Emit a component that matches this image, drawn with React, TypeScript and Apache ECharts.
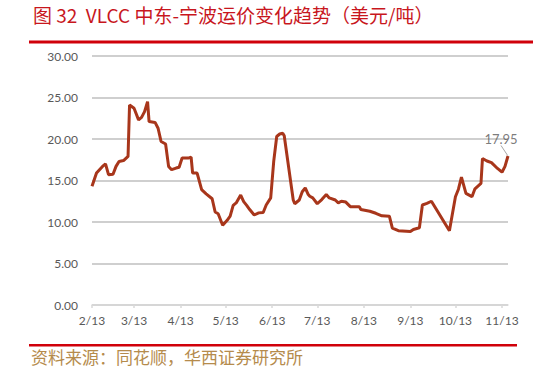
import React, { useEffect, useRef } from "react";
import * as echarts from "echarts";

const TITLE = "图 32  VLCC 中东-宁波运价变化趋势（美元/吨）";
const SOURCE = "资料来源：同花顺，华西证券研究所";

const YEAR = 2023;
const START = "02-13";
const END = "11-17";

const pointDates = [
  "02-13", "02-16", "02-18", "02-20", "02-22", "02-24", "02-27", "03-01", "03-03", "03-06",
  "03-09", "03-10", "03-13", "03-16", "03-18", "03-20", "03-22", "03-23", "03-27", "03-29",
  "03-31", "04-03", "04-05", "04-07", "04-10", "04-12", "04-14", "04-18", "04-20", "04-21",
  "04-24", "04-27", "04-30", "05-04", "05-06", "05-08", "05-11", "05-14", "05-16", "05-18",
  "05-20", "05-23", "05-25", "05-27", "05-29", "06-01", "06-04", "06-07", "06-09", "06-12",
  "06-14", "06-16", "06-18", "06-20", "06-21", "06-27", "06-28", "07-01", "07-03", "07-05",
  "07-07", "07-08", "07-10", "07-13", "07-16", "07-19", "07-21", "07-25", "07-27", "07-29",
  "08-01", "08-04", "08-10", "08-11", "08-17", "08-21", "08-25", "08-30", "09-01", "09-05",
  "09-13", "09-15", "09-19", "09-21", "09-24", "09-27", "10-09", "10-13", "10-15", "10-17",
  "10-20", "10-24", "10-26", "10-30", "10-31", "11-03", "11-06", "11-10", "11-13", "11-15",
  "11-17",
];

const pointValues = [
  14.3, 15.9, 16.3, 16.7, 17.0, 15.7, 15.75, 16.7, 17.3, 17.4,
  17.9, 24.1, 23.7, 22.3, 22.6, 23.3, 24.5, 22.1, 22.0, 21.3,
  19.7, 19.4, 16.7, 16.3, 16.5, 16.6, 17.7, 17.7, 17.8, 15.9,
  15.9, 13.9, 13.4, 12.8, 11.2, 11.0, 9.6, 10.2, 10.7, 12.0,
  12.3, 13.25, 12.45, 12.0, 11.5, 10.85, 11.1, 11.15, 12.05, 12.9,
  17.3, 20.3, 20.6, 20.7, 20.4, 12.65, 12.2, 12.65, 13.65, 14.1,
  13.3, 13.1, 12.9, 12.2, 12.7, 13.3, 12.9, 12.65, 12.3, 12.5,
  12.4, 11.85, 11.85, 11.5, 11.3, 11.05, 10.75, 10.7, 9.25, 8.95,
  8.85, 9.1, 9.3, 12.05, 12.25, 12.5, 8.95, 13.05, 13.95, 15.4,
  13.45, 13.05, 14.0, 14.65, 17.65, 17.35, 17.15, 16.45, 16.0, 16.7,
  17.95,
];

const Y_MIN = 0;
const Y_MAX = 30;
const Y_INTERVAL = 5;

function pad(n: number) {
  return n < 10 ? "0" + n : "" + n;
}

function buildCategories(): string[] {
  const out: string[] = [];
  const s = new Date(Date.UTC(YEAR, parseInt(START.slice(0, 2)) - 1, parseInt(START.slice(3))));
  const e = new Date(Date.UTC(YEAR, parseInt(END.slice(0, 2)) - 1, parseInt(END.slice(3))));
  for (let d = s; d.getTime() <= e.getTime(); d = new Date(d.getTime() + 86400000)) {
    out.push(pad(d.getUTCMonth() + 1) + "-" + pad(d.getUTCDate()));
  }
  return out;
}

export default function App() {
  const ref = useRef<HTMLDivElement>(null);

  useEffect(() => {
    if (!ref.current) return;
    const chart = echarts.init(ref.current, null, { renderer: "svg" });
    const categories = buildCategories();
    const lastIdx = pointDates.length - 1;
    const data = pointDates.map((d, i) => [categories.indexOf(d), pointValues[i]]);
    const lastPoint = [categories.indexOf(pointDates[lastIdx]), pointValues[lastIdx]];

    const fmt = (v: string) => {
      const m = parseInt(v.slice(0, 2));
      const d = parseInt(v.slice(3));
      return m + "/" + d;
    };
    const isTick = (_i: number, v: string) => v.slice(3) === "13";

    chart.setOption({
      animation: false,
      backgroundColor: "#ffffff",
      grid: { left: 92, right: 25, top: 56, bottom: 66 },
      graphic: [
        {
          type: "text",
          left: 33,
          top: 5,
          style: {
            text: TITLE,
            fill: "#c8161d",
            fontSize: 19,
            fontFamily: "Noto Sans CJK SC",
            fontWeight: "normal",
          },
        },
        {
          type: "rect",
          shape: { x: 29, y: 40.5, width: 504, height: 3 },
          style: { fill: "#d0000a" },
        },
        {
          type: "rect",
          shape: { x: 29, y: 344, width: 488, height: 2.5 },
          style: { fill: "#d0000a" },
        },
        {
          type: "text",
          left: 31,
          top: 348,
          style: {
            text: SOURCE,
            fill: "#b58b4c",
            fontSize: 17,
            fontFamily: "Noto Sans CJK SC",
          },
        },
      ],
      xAxis: {
        type: "category",
        data: categories,
        boundaryGap: false,
        axisLine: { show: true, lineStyle: { color: "#d9d9d9", width: 1.5 } },
        axisTick: {
          show: true,
          interval: isTick,
          length: 3,
          lineStyle: { color: "#d9d9d9", width: 1.5 },
        },
        axisLabel: {
          interval: isTick,
          formatter: fmt,
          color: "#595959",
          fontSize: 12,
          fontFamily: "Lato",
          margin: 9,
        },
        splitLine: { show: false },
      },
      yAxis: {
        type: "value",
        min: Y_MIN,
        max: Y_MAX,
        interval: Y_INTERVAL,
        axisLine: { show: false },
        axisTick: { show: false },
        axisLabel: {
          formatter: (v: number) => v.toFixed(2),
          color: "#595959",
          fontSize: 12,
          fontFamily: "Lato",
          margin: 14,
        },
        splitLine: { show: true, lineStyle: { color: "#bfbfbf", width: 1.5 } },
      },
      series: [
        {
          type: "line",
          data,
          showSymbol: false,
          lineStyle: { color: "#a8361b", width: 3 },
          itemStyle: { color: "#a8361b" },
          z: 3,
        },
        {
          type: "scatter",
          data: [lastPoint],
          symbolSize: 1,
          itemStyle: { color: "rgba(0,0,0,0)" },
          label: {
            show: true,
            position: "top",
            distance: 2,
            formatter: (p: any) => p.value[1].toFixed(2),
            color: "#595959",
            fontSize: 13,
            fontFamily: "Lato",
          },
          labelLayout: { dx: -7, dy: -8 },
          labelLine: { show: true, lineStyle: { color: "#a6a6a6", width: 1 } },
          z: 4,
        },
      ],
    });

    return () => chart.dispose();
  }, []);

  return (
    <div
      ref={ref}
      style={{ position: "fixed", left: 0, top: 0, width: 533, height: 371 }}
    />
  );
}
